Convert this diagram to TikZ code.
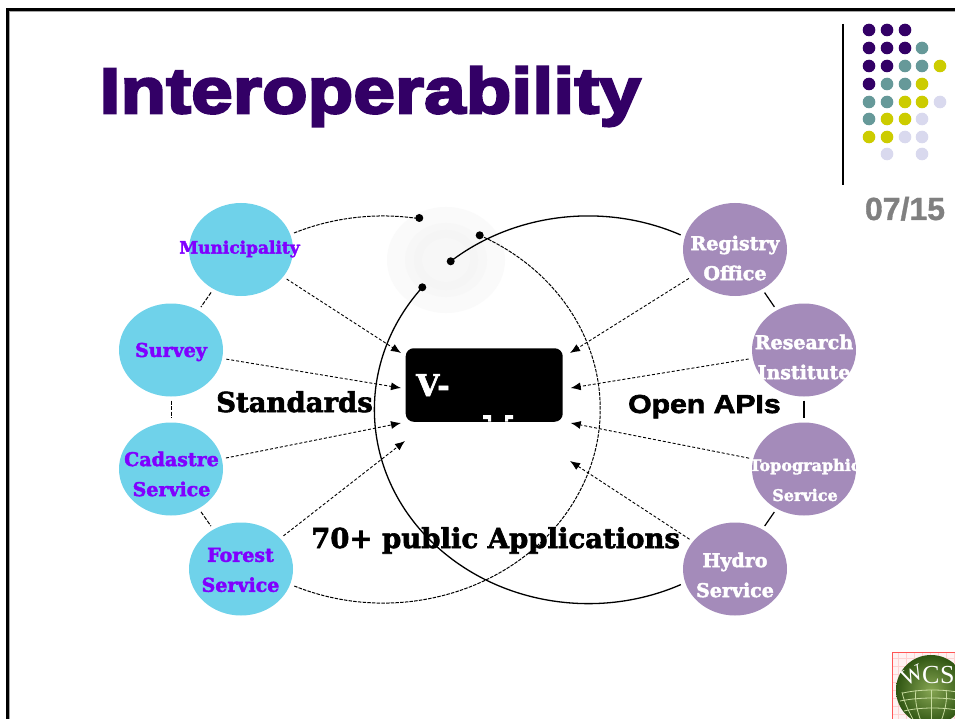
\documentclass[tikz,border=0pt]{standalone}
\usepackage{fontspec}
\usetikzlibrary{shapes.geometric,arrows.meta}
\setmainfont{Liberation Sans}
\newfontfamily\slab[BoldFeatures={FakeBold=2.2}]{DejaVu Serif}
\newfontfamily\heavy[BoldFeatures={FakeBold=2.5,FakeStretch=1.16}]{Liberation Sans}
\newfontfamily\titlefont[BoldFeatures={FakeBold=4,FakeStretch=1.16,LetterSpace=0.5}]{Liberation Sans}
\newfontfamily\pagefont[BoldFeatures={FakeBold=1}]{Liberation Sans}
\newfontfamily\logofont{Liberation Serif}
\definecolor{pdeep}{HTML}{330066}
\definecolor{pteal}{HTML}{669999}
\definecolor{pyel}{HTML}{CCCC00}
\definecolor{plil}{HTML}{D9D9EE}
\definecolor{skyb}{HTML}{6FD2EA}
\definecolor{mauve}{HTML}{A48BBA}
\definecolor{violet}{HTML}{8000FF}
\definecolor{gin}{HTML}{86A552}
\definecolor{gout}{HTML}{2F5512}
\definecolor{gline}{HTML}{C8DCA0}
\tikzset{
  x=1pt,y=-1pt,
  sqcirc/.style={fill=#1,circle,inner sep=0pt,minimum size=12.6pt,draw=none},
  leftorg/.style={ellipse,fill=skyb,draw=none,minimum width=104pt,minimum height=93pt,inner sep=0pt},
  rightorg/.style={ellipse,fill=mauve,draw=none,minimum width=104pt,minimum height=93pt,inner sep=0pt},
  ltext/.style={font=\slab\bfseries\fontsize{19}{30}\selectfont,text=violet,align=center,inner sep=0pt},
  rtext/.style={font=\slab\bfseries\fontsize{19}{30}\selectfont,text=white,align=center,inner sep=0pt},
  bigtext/.style={font=\slab\bfseries\fontsize{27.5}{30}\selectfont,text=black,inner sep=0pt},
  feed/.style={densely dashed,line width=0.9pt,shorten <=4pt,-{Latex[length=10pt,width=8pt]}},
  ringdash/.style={dash pattern=on 4pt off 1.5pt,line width=1pt,shorten <=4pt,shorten >=4pt},
  ringsolid/.style={line width=1.2pt,shorten <=4pt,shorten >=4pt},
  bigdash/.style={dash pattern=on 3.5pt off 1.2pt,line width=1pt},
  bigsolid/.style={line width=1.3pt},
  pin/.style={circle,fill=black,inner sep=0pt,minimum size=8pt},
  gridline/.style={pink!70,line width=0.4pt},
  globeline/.style={gline,line width=0.8pt},
}
\begin{document}
\begin{tikzpicture}
\useasboundingbox (0,0) rectangle (955,719);
\fill[white] (0,0) rectangle (955,719);
% slide frame
\fill[gray!70] (8,10) rectangle (955,12);
\fill[gray!70] (8,10) rectangle (10,719);
\fill[black] (6,8) rectangle (955,10.7);
\fill[black] (6,8) rectangle (8.7,719);
% title
\node[anchor=base west,inner sep=0pt,text=pdeep,font=\titlefont\bfseries\fontsize{64}{64}\selectfont] (title) at (99.5,113) {Interoperability};
% decoration
\draw[line width=2pt] (843,24) -- (843,185);
\foreach \x/\y/\c in {869/30/pdeep,887/30/pdeep,905/30/pdeep,
 869/48/pdeep,887/48/pdeep,905/48/pdeep,922/48/pteal,
 869/66/pdeep,887/66/pdeep,905/66/pteal,922/66/pteal,940/66/pyel,
 869/84/pdeep,887/84/pteal,905/84/pteal,922/84/pyel,
 869/102/pteal,887/102/pteal,905/102/pyel,922/102/pyel,940/102/plil,
 869/119/pteal,887/119/pyel,905/119/pyel,922/119/plil,
 869/137/pyel,887/137/pyel,905/137/plil,922/137/plil,
 887/154/plil,922/154/plil}
  \node[sqcirc=\c] at (\x,\y) {};
\node[text=gray,font=\pagefont\bfseries\fontsize{32}{32}\selectfont,inner sep=0pt,anchor=base] (page) at (905,220) {07/15};
% glow
\fill[black!2] (446,260) ellipse [x radius=59pt,y radius=53pt];
\fill[black!3] (446,260) ellipse [x radius=41pt,y radius=37pt];
\fill[black!4] (446,260) ellipse [x radius=32pt,y radius=30pt];
\fill[black!3] (446,260) ellipse [x radius=24pt,y radius=22pt];
% organisations
\node[leftorg] (muni) at (241,249.5) {};
\node[leftorg] (surv) at (171,350) {};
\node[leftorg] (cada) at (171,469) {};
\node[leftorg] (fore) at (241,569) {};
\node[rightorg] (regi) at (735,249.5) {};
\node[rightorg] (rese) at (804,350) {};
\node[rightorg] (topo) at (804,469) {};
\node[rightorg] (hydr) at (735,569) {};
\node[ltext,font=\slab\bfseries\fontsize{17}{30}\selectfont] (munit) at (239.5,249) {Municipality};
\node[ltext] (survt) at (171,352) {Survey};
\node[ltext] (cadat) at (171.5,474) {Cadastre\\Service};
\node[ltext] (foret) at (240.5,570) {Forest\\Service};
\node[rtext] (regit) at (735,258) {Registry\\Office};
\node[rtext] (reset) at (804,357) {Research\\Institute};
\node[rtext,font=\slab\bfseries\fontsize{16}{30}\selectfont] (topot) at (805,480) {Topographic\\Service};
\node[rtext] (hydrt) at (735,575) {Hydro\\Service};
% central box
\node[fill=black,rounded corners=8pt,minimum width=157pt,minimum height=73.5pt,inner sep=0pt] (box) at (484.2,385) {};
\node[anchor=base west,inner sep=0pt,text=white,font=\slab\bfseries\fontsize{30}{30}\selectfont] (vt) at (416,396) {V-};
\fill[white] (483,415) rectangle (491,419) (488,419) rectangle (491,421.7);
\fill[white] (505,415) rectangle (513,419) (505,419) rectangle (508,421.7);
% labels
\node[bigtext,anchor=base west] (std) at (216,412) {Standards};
\node[anchor=base west,inner sep=0pt,font=\heavy\bfseries\fontsize{26}{26}\selectfont] (api) at (628,413) {Open APIs};
\node[bigtext,anchor=base west] (app) at (311,548) {70+ public Applications};
% pins
\node[pin] (p1) at (419.3,218) {};
\node[pin] (p3) at (479.7,235.3) {};
\node[pin] (p2) at (450.7,261.3) {};
\node[pin] (p4) at (422.3,287.3) {};
% big arcs
\coordinate (mstart) at (294,233);
\coordinate (dstart) at (479.7,235.3);
\draw[bigdash] (mstart) arc[start angle=114.2,end angle=80.5,x radius=217pt,y radius=194pt];
\draw[bigdash] (dstart) arc[start angle=63.6,end angle=-114.2,x radius=217pt,y radius=194pt];
\coordinate (s2) at (450.7,261.3);
\coordinate (s4) at (422.3,287.3);
\draw[bigsolid] (s2) arc[start angle=130,end angle=64.4,x radius=214pt,y radius=194pt];
\draw[bigsolid] (s4) arc[start angle=140.9,end angle=295.6,x radius=214pt,y radius=194pt];
% rim links
\draw[ringdash] (muni) -- (surv);
\draw[ringdash] (surv) -- (cada);
\draw[ringdash] (cada) -- (fore);
\draw[ringsolid] (regi) -- (rese);
\draw[ringsolid] (rese) -- (topo);
\draw[ringsolid] (topo) -- (hydr);
% feeds
\coordinate (ta) at (401,353);
\coordinate (tb) at (401,388);
\coordinate (tc) at (401,423);
\coordinate (td) at (405,441);
\coordinate (te) at (570,353);
\coordinate (tf) at (570.7,388);
\coordinate (tg) at (570.7,423);
\coordinate (th) at (570,461);
\draw[feed] (muni) -- (ta);
\draw[feed] (surv) -- (tb);
\draw[feed] (cada) -- (tc);
\draw[feed] (fore) -- (td);
\draw[feed] (regi) -- (te);
\draw[feed] (rese) -- (tf);
\draw[feed] (topo) -- (tg);
\draw[feed] (hydr) -- (th);
% logo
\begin{scope}
\clip (892,652) rectangle (955,719);
\fill[pink!20] (892,652) rectangle (955,719);
\foreach \v in {898,906,...,955} \draw[gridline] (\v,652) -- (\v,719);
\foreach \v in {658,666,...,719} \draw[gridline] (892,\v) -- (955,\v);
\draw[red!55!pink,line width=1.2pt] (892.5,719) -- (892.5,652.5) -- (955,652.5);
\shade[inner color=gin,outer color=gout] (931,690) circle (35pt);
\draw[globeline] (903,693) .. controls (920,689) and (945,689) .. (962,693);
\draw[globeline] (900,701) .. controls (920,697) and (945,697) .. (964,701);
\draw[globeline] (904,711) .. controls (920,707) and (945,707) .. (962,711);
\draw[globeline] (931,690) -- (931,726);
\draw[globeline] (916,690) .. controls (914,700) and (918,715) .. (923,726);
\draw[globeline] (902,692) .. controls (904,702) and (910,715) .. (917,726);
\draw[globeline] (946,690) .. controls (948,700) and (944,715) .. (939,726);
\node[inner sep=0pt,text=white,font=\logofont\fontsize{23}{23}\selectfont,rotate=25] (wc1) at (912,675) {W};
\node[anchor=base west,inner sep=0pt,text=white,font=\logofont\fontsize{26}{26}\selectfont] (wc2) at (922,683) {C};
\node[anchor=base west,inner sep=0pt,text=white,font=\logofont\fontsize{26}{26}\selectfont] (wc3) at (940,683) {S};
\end{scope}
\end{tikzpicture}
\end{document}
